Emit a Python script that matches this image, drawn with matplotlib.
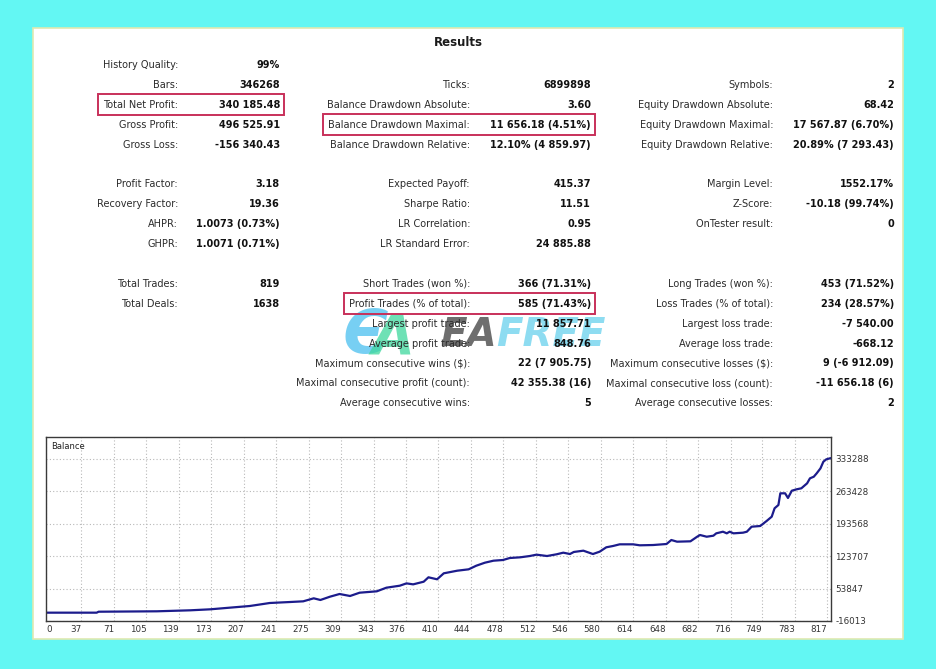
import matplotlib
matplotlib.use("Agg")
import matplotlib.pyplot as plt
from matplotlib.patches import Rectangle

W, H = 936, 669
plt.rcParams['font.family'] = ['DejaVu Sans']

# ---- report table ----
col1_labels = ["History Quality:", "Bars:", "Total Net Profit:", "Gross Profit:", "Gross Loss:", "",
               "Profit Factor:", "Recovery Factor:", "AHPR:", "GHPR:", "",
               "Total Trades:", "Total Deals:"]
col1_values = ["99%", "346268", "340 185.48", "496 525.91", "-156 340.43", "",
               "3.18", "19.36", "1.0073 (0.73%)", "1.0071 (0.71%)", "",
               "819", "1638"]

col2_labels = ["", "Ticks:", "Balance Drawdown Absolute:", "Balance Drawdown Maximal:",
               "Balance Drawdown Relative:", "",
               "Expected Payoff:", "Sharpe Ratio:", "LR Correlation:", "LR Standard Error:", "",
               "Short Trades (won %):", "Profit Trades (% of total):", "Largest profit trade:",
               "Average profit trade:", "Maximum consecutive wins ($):",
               "Maximal consecutive profit (count):", "Average consecutive wins:"]
col2_values = ["", "6899898", "3.60", "11 656.18 (4.51%)", "12.10% (4 859.97)", "",
               "415.37", "11.51", "0.95", "24 885.88", "",
               "366 (71.31%)", "585 (71.43%)", "11 857.71", "848.76", "22 (7 905.75)",
               "42 355.38 (16)", "5"]

col3_labels = ["", "Symbols:", "Equity Drawdown Absolute:", "Equity Drawdown Maximal:",
               "Equity Drawdown Relative:", "",
               "Margin Level:", "Z-Score:", "OnTester result:", "", "",
               "Long Trades (won %):", "Loss Trades (% of total):", "Largest loss trade:",
               "Average loss trade:", "Maximum consecutive losses ($):",
               "Maximal consecutive loss (count):", "Average consecutive losses:"]
col3_values = ["", "2", "68.42", "17 567.87 (6.70%)", "20.89% (7 293.43)", "",
               "1552.17%", "-10.18 (99.74%)", "0", "", "",
               "453 (71.52%)", "234 (28.57%)", "-7 540.00", "-668.12", "9 (-6 912.09)",
               "-11 656.18 (6)", "2"]

# (column, row) of the framed entries
highlighted = [(0, 2), (1, 3), (1, 12)]

# ---- balance graph ----
trade_no = [0, 53, 55, 116, 151, 172, 192, 213, 227, 234, 255, 269, 280, 287, 297, 307,
            318, 328, 346, 356, 370, 377, 384, 395, 400, 409, 416, 430, 442, 450, 459,
            468, 478, 485, 496, 506, 513, 524, 534, 541, 548, 552, 562, 572, 579, 586,
            593, 600, 614, 621, 635, 649, 654, 660, 674, 681, 684, 691, 698, 701, 708,
            712, 715, 719, 729, 733, 738, 747, 754, 759, 762, 766, 768, 773, 776, 780,
            785, 790, 796, 799, 803, 806, 810, 813, 816, 820]
balance = [1950, 1950, 4000, 4900, 7050, 9200, 12700, 16300, 20600, 22800, 24900, 26400,
           32900, 29300, 36400, 42200, 37900, 45000, 48000, 55800, 60100, 65100, 63000,
           68700, 78200, 73900, 86800, 92400, 95400, 103200, 109700, 114000, 115500,
           119800, 121300, 124100, 127000, 124100, 127800, 131300, 128400, 132800,
           135600, 128400, 133400, 142900, 145700, 149300, 149300, 147200, 147800,
           150000, 158600, 155000, 155800, 165700, 169400, 165700, 167900, 173000,
           176500, 173000, 176500, 173000, 174400, 176500, 187300, 188800, 200200,
           208900, 227000, 234100, 259300, 259300, 249200, 264900, 267900, 270100,
           280800, 291600, 295100, 302300, 313100, 327400, 332500, 334800]

x_ticks = [0, 37, 71, 105, 139, 173, 207, 241, 275, 309, 343, 376, 410, 444, 478, 512,
           546, 580, 614, 648, 682, 716, 749, 783, 817]
y_ticks = [-16013, 53847, 123707, 193568, 263428, 333288]


fig = plt.figure(figsize=(W / 100, H / 100), dpi=100, facecolor='#63f7f3')

bg = fig.add_axes([0, 0, 1, 1])
bg.set_xlim(0, W)
bg.set_ylim(H, 0)
bg.axis('off')
bg.add_patch(Rectangle((33, 28), 870, 611, facecolor='white', edgecolor='#dfe9b0',
                       lw=1.2, zorder=0))

bg.text(458, 43, "Results", ha='center', va='center', fontsize=8.5,
        fontweight='bold', color='#1a1a1a')

row_y0, row_dy = 65, 19.9
label_right = [178, 470, 773]
value_right = [280, 591, 894]
columns = [(col1_labels, col1_values), (col2_labels, col2_values), (col3_labels, col3_values)]

texts = {}
for c, (labs, vals) in enumerate(columns):
    for r, (lab, val) in enumerate(zip(labs, vals)):
        y = row_y0 + r * row_dy
        if lab:
            texts[(c, r, 'l')] = bg.text(label_right[c], y, lab, ha='right', va='center',
                                         fontsize=7, color='#2b2b2b', zorder=4)
        if val:
            texts[(c, r, 'v')] = bg.text(value_right[c], y, val, ha='right', va='center',
                                         fontsize=7, fontweight='bold', color='#111111',
                                         zorder=4)

# red frames around selected entries
fig.canvas.draw()
renderer = fig.canvas.get_renderer()
for c, r in highlighted:
    lb = texts[(c, r, 'l')].get_window_extent(renderer)
    vb = texts[(c, r, 'v')].get_window_extent(renderer)
    y = row_y0 + r * row_dy
    x0, x1 = lb.x0 - 5, vb.x1 + 4
    bg.add_patch(Rectangle((x0, y - 10.5), x1 - x0, 21, facecolor='none',
                           edgecolor='#c8305a', lw=1.4, zorder=5))

# watermark, kept under the table text
wm = dict(fontweight='bold', fontstyle='italic', va='center', ha='left', zorder=2)
bg.text(343, 336, "\u0404", fontsize=44, color='#55c4f0', alpha=0.8, **wm)
bg.text(372, 338, "A", fontsize=40, color='#3ed89c', alpha=0.75, **wm)
bg.text(440, 335, "EA", fontsize=28, color='#4a4a4a', alpha=0.8, **wm)
bg.text(496, 335, "FREE", fontsize=28, color='#72d4ee', alpha=0.8, **wm)

# balance chart
ax = fig.add_axes([46 / W, (H - 621) / H, (831 - 46) / W, (621 - 437) / H])
ax.plot(trade_no, balance, color='#1c1c8c', lw=1.6, solid_joinstyle='round')
ax.set_xlim(0, 821)
ax.set_ylim(-16013, 380700)

ax.set_yticks(y_ticks)
ax.set_yticklabels([str(v) for v in y_ticks])
ax.yaxis.tick_right()
ax.set_xticks(x_ticks)
ax.set_xticklabels([str(v) for v in x_ticks])
for i, lbl in enumerate(ax.get_xticklabels()):
    lbl.set_ha('left' if i == 0 else 'right')
ax.tick_params(length=0, labelsize=6.3, colors='#333333', pad=3)

ax.grid(True, linestyle=(0, (1, 2)), color='#b8b8b8', lw=0.8)
for s in ax.spines.values():
    s.set_color('#3a3a3a')
    s.set_linewidth(1)
ax.text(0.006, 0.975, "Balance", transform=ax.transAxes, ha='left', va='top',
        fontsize=6, color='#222222')

fig.savefig("out.png", dpi=100, facecolor=fig.get_facecolor())
